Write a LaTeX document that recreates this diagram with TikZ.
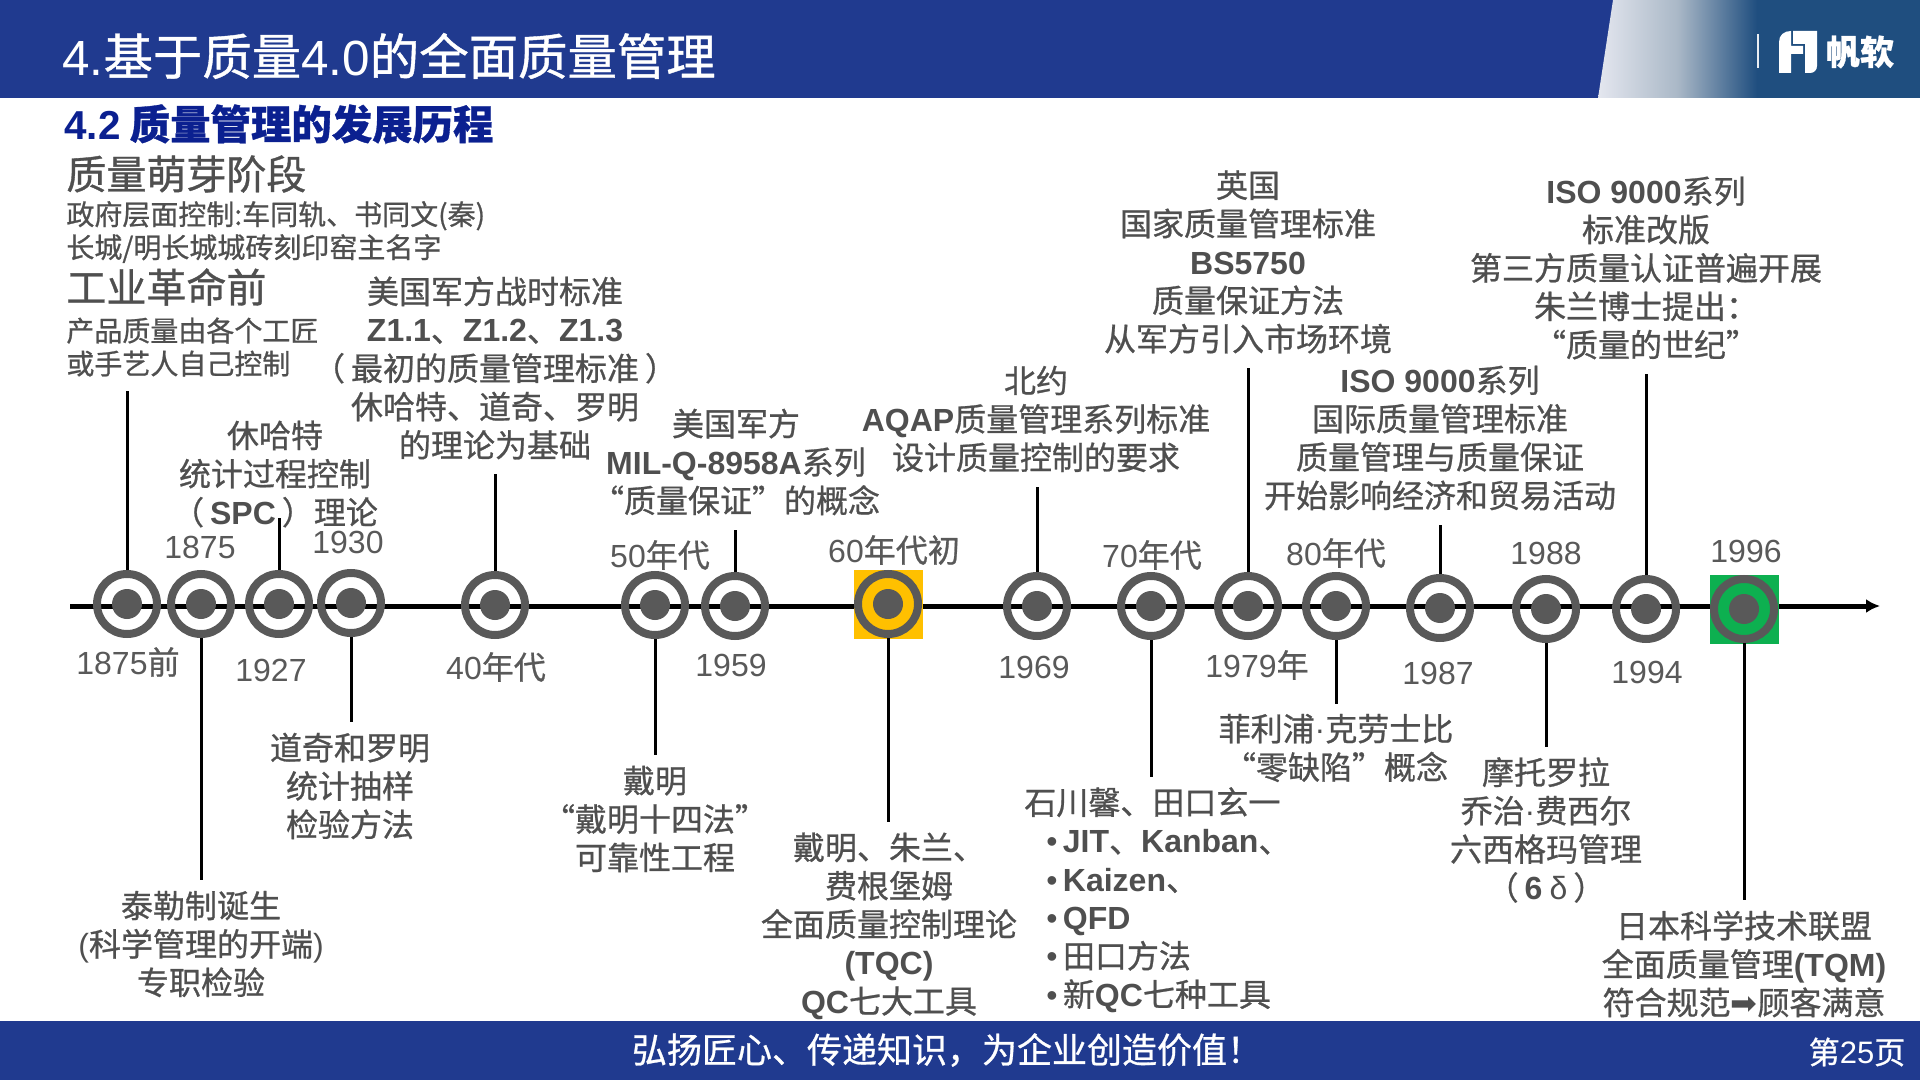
\documentclass[tikz,border=0pt]{standalone}
\usepackage{fontspec}
\usetikzlibrary{arrows.meta}
\setmainfont{Noto Sans CJK SC}[FakeBold=0.8]
\newfontfamily\arialfont{Liberation Sans}
\newfontfamily\symfont{DejaVu Sans}
\newcommand{\en}[1]{{\arialfont #1}}
\newcommand{\enb}[1]{{\arialfont\bfseries #1}}
\definecolor{hdrblue}{HTML}{203A8F}
\definecolor{logoblue}{HTML}{1F4E7F}
\definecolor{headblue}{HTML}{0B2090}
\definecolor{ringgray}{HTML}{595959}
\definecolor{txtgray}{HTML}{4F4F4F}
\definecolor{goldfill}{HTML}{FFC000}
\definecolor{greenfill}{HTML}{0DB050}
\tikzset{
    ring/.style={circle, draw=ringgray, line width=4pt, minimum size=30pt, inner sep=0pt,
        path picture={\fill[ringgray] (path picture bounding box.center) circle (7.5pt);}},
    hilite/.style={rectangle, fill=#1, minimum size=34.5pt, inner sep=0pt},
    axisline/.style={line width=2.5pt, -{Latex[length=7pt,width=7pt]}},
    stem/.style={line width=1.5pt},
    stemup/.style={stem, shorten >=2pt},
    lbl/.style={align=center, inner sep=5pt, text=txtgray, font=\fontsize{16}{19.2}\selectfont},
    yearlbl/.style={inner sep=0pt, text=ringgray, font=\arialfont\fontsize{16}{19.2}\selectfont},
    stagelbl/.style={anchor=west, inner sep=0pt, text=txtgray, font=\fontsize{20}{24}\selectfont},
    smalllbl/.style={anchor=west, align=left, inner sep=0pt, text=txtgray, font=\fontsize{14}{16.5}\selectfont},
    whitelbl/.style={inner sep=0pt, text=white}
}
\begin{document}
\begin{tikzpicture}[x=0.5pt, y=-0.5pt]
    \useasboundingbox (0,0) rectangle (1920,1080);

    \begin{scope}
    \fill[hdrblue] (0,0) rectangle (1920,98);
    \fill[logoblue] (1756,0) rectangle (1920,98);
    \shade[left color=black!2!white!90!hdrblue, right color=logoblue, middle color=black!10!white!70!logoblue]
        (1613,0) -- (1757,0) -- (1757,98) -- (1598,98) -- cycle;
    \fill[hdrblue] (0,1021) rectangle (1920,1080);
    \fill[white!90!logoblue] (1757,34) rectangle (1759,68);
    \fill[white] (1779,73) -- (1779,42) .. controls (1779,35) and (1784,31) .. (1791,31)
        -- (1791,46) -- (1803,46) -- (1803,54) -- (1791,54) -- (1791,73) -- cycle;
    \fill[white] (1793,31) -- (1817,31) -- (1817,66) .. controls (1817,70) and (1814,73) .. (1810,73)
        -- (1805,73) -- (1805,44) -- (1793,44) -- cycle;
    \node[whitelbl, font=\bfseries\fontsize{17}{20}\selectfont] (brand) at (1860,52) {帆软};
    \node[whitelbl, anchor=west, font=\fontsize{24.7}{30}\selectfont] (title) at (62,56) {\en{4.}基于质量\en{4.0}的全面质量管理};
    \node[whitelbl, font=\fontsize{17.5}{21}\selectfont] (slogan) at (947,1050) {弘扬匠心、传递知识，为企业创造价值！};
    \node[whitelbl, font=\fontsize{15.5}{19}\selectfont] (pageno) at (1857,1052) {第\en{25}页};
    \end{scope}

    \node[anchor=west, inner sep=0pt, text=headblue, font=\bfseries\fontsize{20.2}{24}\selectfont] (subhead) at (64,124) {\enb{4.2} 质量管理的发展历程};
    \node[stagelbl] (stageA) at (66,174) {质量萌芽阶段};
    \node[smalllbl] (stageAtxt) at (66,232) {政府层面控制:车同轨、书同文(秦)\\长城/明长城城砖刻印窑主名字};
    \node[stagelbl] (stageB) at (66,287) {工业革命前};
    \node[smalllbl, inner sep=5pt, xshift=-5pt] (stageBtxt) at (66,347) {产品质量由各个工匠\\或手艺人自己控制};

    \coordinate (axisstart) at (70,606);
    \coordinate (axisend) at (1880,606);
    \draw[axisline] (axisstart) -- (axisend);

    \node[hilite=goldfill] (box60s) at (888,604) {};
    \node[hilite=greenfill] (box1996) at (1744,609) {};

    \node[ring] (dot1875b) at (127,604) {};
    \node[ring] (dot1875) at (201,604) {};
    \node[ring] (dot1927) at (279,604) {};
    \node[ring] (dot1930) at (351,603) {};
    \node[ring] (dot40s) at (495,605) {};
    \node[ring] (dot50s) at (655,605) {};
    \node[ring] (dot1959) at (735,606) {};
    \node[ring] (dot60s) at (888,604) {};
    \node[ring] (dot1969) at (1037,606) {};
    \node[ring] (dot70s) at (1151,606) {};
    \node[ring] (dot1979) at (1248,606) {};
    \node[ring] (dot80s) at (1336,606) {};
    \node[ring] (dot1987) at (1440,608) {};
    \node[ring] (dot1988) at (1546,609) {};
    \node[ring] (dot1994) at (1646,609) {};
    \node[ring] (dot1996) at (1744,609) {};

    \node[yearlbl] (yr1875b) at (128,662) {1875{\rmfamily 前}};
    \node[yearlbl] (yr1875) at (200,547) {1875};
    \node[yearlbl] (yr1927) at (271,670) {1927};
    \node[yearlbl] (yr1930) at (348,542) {1930};
    \node[yearlbl] (yr40s) at (496,667) {40{\rmfamily 年代}};
    \node[yearlbl] (yr50s) at (660,555) {50{\rmfamily 年代}};
    \node[yearlbl] (yr1959) at (731,665) {1959};
    \node[yearlbl] (yr60s) at (894,550) {60{\rmfamily 年代初}};
    \node[yearlbl] (yr1969) at (1034,667) {1969};
    \node[yearlbl] (yr70s) at (1152,555) {70{\rmfamily 年代}};
    \node[yearlbl] (yr1979) at (1257,665) {1979{\rmfamily 年}};
    \node[yearlbl] (yr80s) at (1336,553) {80{\rmfamily 年代}};
    \node[yearlbl] (yr1987) at (1438,673) {1987};
    \node[yearlbl] (yr1988) at (1546,553) {1988};
    \node[yearlbl] (yr1994) at (1647,672) {1994};
    \node[yearlbl] (yr1996) at (1746,551) {1996};

    \node[lbl] (txt1875) at (201,944) {泰勒制诞生\\\en{(}科学管理的开端\en{)}\\专职检验};
    \node[lbl] (txt1927) at (275,474) {休哈特\\统计过程控制\\（\hspace{3pt}\enb{SPC}\hspace{3pt}）理论};
    \node[lbl] (txt1930) at (350,786) {道奇和罗明\\统计抽样\\检验方法};
    \node[lbl] (txt40s) at (495,368) {美国军方战时标准\\\enb{Z1.1}、\enb{Z1.2}、\enb{Z1.3}\\（\hspace{3pt}最初的质量管理标准\hspace{3pt}）\\休哈特、道奇、罗明\\的理论为基础};
    \node[lbl] (txt50s) at (655,819) {戴明\\“戴明十四法”\\可靠性工程};
    \node[lbl] (txt1959) at (736,462) {美国军方\\\enb{MIL-Q-8958A}系列\\“质量保证”的概念};
    \node[lbl] (txt60s) at (889,926) {戴明、朱兰、\\费根堡姆\\全面质量控制理论\\\enb{(TQC)}\\\enb{QC}七大工具};
    \node[lbl] (txt1969) at (1036,419) {北约\\\enb{AQAP}质量管理系列标准\\设计质量控制的要求};
    \node[lbl, anchor=west, align=left, xshift=-5pt] (txt70s) at (1024,900) {石川馨、田口玄一\\
        \hspace*{11pt}\en{•}\,\enb{JIT}、\enb{Kanban}、\\
        \hspace*{11pt}\en{•}\,\enb{Kaizen}、\\
        \hspace*{11pt}\en{•}\,\enb{QFD}\\
        \hspace*{11pt}\en{•}\,田口方法\\
        \hspace*{11pt}\en{•}\,新\enb{QC}七种工具};
    \node[lbl] (txt1979) at (1248,262) {英国\\国家质量管理标准\\\enb{BS5750}\\质量保证方法\\从军方引入市场环境};
    \node[lbl] (txt80s) at (1336,748) {菲利浦\en{·}克劳士比\\“零缺陷”概念};
    \node[lbl] (txt1987) at (1440,438) {\enb{ISO 9000}系列\\国际质量管理标准\\质量管理与质量保证\\开始影响经济和贸易活动};
    \node[lbl] (txt1988) at (1546,830) {摩托罗拉\\乔治\en{·}费西尔\\六西格玛管理\\（\hspace{3pt}\enb{6} \en{δ}\hspace{3pt}）};
    \node[lbl] (txt1994) at (1646,268) {\enb{ISO 9000}系列\\标准改版\\第三方质量认证普遍开展\\朱兰博士提出：\\“质量的世纪”};
    \node[lbl] (txt1996) at (1744,964) {日本科学技术联盟\\全面质量管理\enb{(TQM)}\\符合规范{\symfont ➡}顾客满意};

    \draw[stemup] (dot1875b) -- (dot1875b |- stageBtxt.south);
    \draw[stem] (dot1875) -- (dot1875 |- txt1875.north);
    \draw[stem, shorten >=-10pt] (dot1927) -- (dot1927 |- txt1927.south);
    \draw[stem] (dot1930) -- (dot1930 |- txt1930.north);
    \draw[stemup] (dot40s) -- (dot40s |- txt40s.south);
    \draw[stem] (dot50s) -- (dot50s |- txt50s.north);
    \draw[stemup] (dot1959) -- (dot1959 |- txt1959.south);
    \draw[stem] (dot60s) -- (dot60s |- txt60s.north);
    \draw[stemup] (dot1969) -- (dot1969 |- txt1969.south);
    \draw[stem] (dot70s) -- (dot70s |- txt70s.north);
    \draw[stemup] (dot1979) -- (dot1979 |- txt1979.south);
    \draw[stem] (dot80s) -- (dot80s |- txt80s.north);
    \draw[stemup] (dot1987) -- (dot1987 |- txt1987.south);
    \draw[stem] (dot1988) -- (dot1988 |- txt1988.north);
    \draw[stemup] (dot1994) -- (dot1994 |- txt1994.south);
    \draw[stem] (dot1996) -- (dot1996 |- txt1996.north);
\end{tikzpicture}
\end{document}
